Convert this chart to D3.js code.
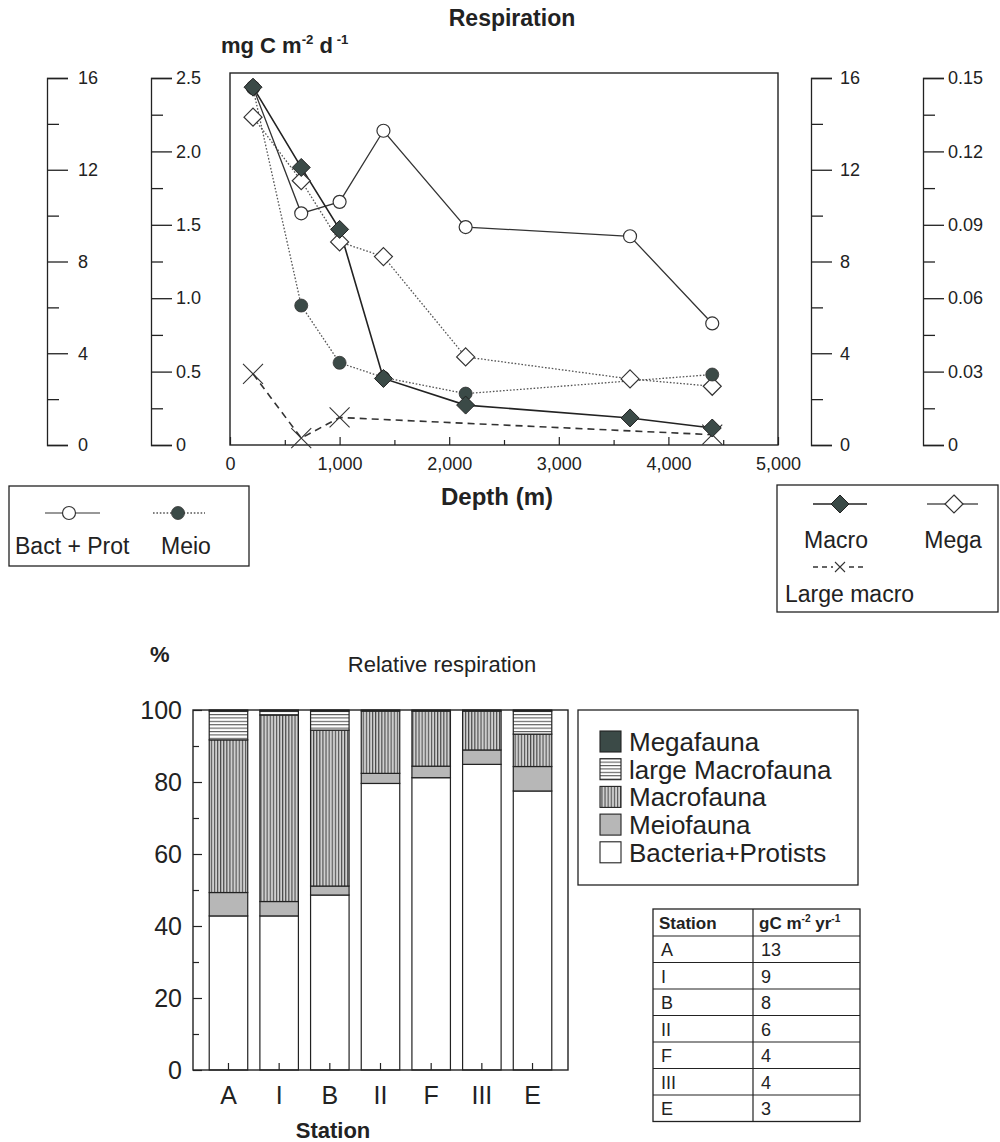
<!DOCTYPE html>
<html>
<head>
<meta charset="utf-8">
<script src="https://cdnjs.cloudflare.com/ajax/libs/d3/7.8.5/d3.min.js"></script>
<style>
body { margin: 0; background: #fff; }
svg text { font-family: "Liberation Sans", Arial, Helvetica, sans-serif; fill: #222; }
</style>
</head>
<body>
<svg id="chart"></svg>
<script>
const width = 1000;
const height = 1142;

// Top panel: respiration vs depth (mg C m-2 d-1)
const depths = [210, 650, 1000, 1400, 2150, 3650, 4400];
const bactProt = [15.6, 10.1, 10.6, 13.7, 9.5, 9.1, 5.3];
const meio = [2.43, 0.95, 0.56, 0.46, 0.35, null, 0.48];
const macro = [15.6, 12.1, 9.4, 2.9, 1.74, 1.18, 0.74];
const mega = [0.134, 0.108, 0.083, 0.077, 0.036, 0.027, 0.024];
const largeMacroDepths = [210, 650, 1000, 4400];
const largeMacro = [3.1, 0.3, 1.2, 0.45];
const depthTicks = [0, 1000, 2000, 3000, 4000, 5000];

// Bottom panel: relative respiration (%)
const stations = ['A', 'I', 'B', 'II', 'F', 'III', 'E'];
const bacteria = [42.8, 42.8, 48.6, 79.6, 81.2, 84.9, 77.5];
const meiofauna = [6.5, 4.0, 2.5, 2.8, 3.2, 4.0, 6.8];
const macrofauna = [42.4, 51.8, 43.3, 17.3, 15.3, 10.8, 9.0];
const largeMacrofauna = [8.0, 1.1, 5.3, 0, 0, 0, 6.4];
const megafauna = [0.3, 0.3, 0.3, 0.3, 0.3, 0.3, 0.3];
const annualResp = [13, 9, 8, 6, 4, 4, 3];
const pctTicks = [0, 20, 40, 60, 80, 100];

const ink = "#222";
const dark = "#3b4a47";

const svg = d3.select("#chart")
    .attr("width", width)
    .attr("height", height)
    .style("background", "#fff");

const defs = svg.append("defs");

// vertical hatching (Macrofauna)
const vp = defs.append("pattern").attr("id", "vlines")
    .attr("patternUnits", "userSpaceOnUse").attr("width", 3.1).attr("height", 10);
vp.append("rect").attr("width", 3.1).attr("height", 10).attr("fill", "#cfcfcf");
vp.append("line").attr("x1", 0.6).attr("x2", 0.6).attr("y1", 0).attr("y2", 10)
    .attr("stroke", "#2a2a2a").attr("stroke-width", 0.9);

// horizontal hatching (large Macrofauna)
const hp = defs.append("pattern").attr("id", "hlines")
    .attr("patternUnits", "userSpaceOnUse").attr("width", 10).attr("height", 3.4);
hp.append("rect").attr("width", 10).attr("height", 3.4).attr("fill", "#fff");
hp.append("line").attr("x1", 0).attr("x2", 10).attr("y1", 0.6).attr("y2", 0.6)
    .attr("stroke", "#333").attr("stroke-width", 0.9);

// ---------- helpers ----------
function supText(g, x, y, parts, size, weight, anchor) {
    const t = g.append("text")
        .attr("x", x).attr("y", y)
        .attr("font-size", size)
        .attr("font-weight", weight || "normal")
        .attr("text-anchor", anchor || "start");
    let shift = 0;
    parts.forEach(p => {
        const want = p.sup ? -size * 0.42 : 0;
        t.append("tspan")
            .attr("dy", want - shift)
            .attr("font-size", p.sup ? size * 0.6 : size)
            .text(p.t);
        shift = want;
    });
    return t;
}

function diamond(r) {
    return `M0,${-r}L${r},0L0,${r}L${-r},0Z`;
}

function drawMarker(g, type, x, y) {
    if (type === "openCircle") {
        g.append("circle").attr("cx", x).attr("cy", y).attr("r", 6.5)
            .attr("fill", "#fff").attr("stroke", "#333").attr("stroke-width", 1.2);
    } else if (type === "fillCircle") {
        g.append("circle").attr("cx", x).attr("cy", y).attr("r", 6.5)
            .attr("fill", dark).attr("stroke", "#333").attr("stroke-width", 0.8);
    } else if (type === "fillDiamond") {
        g.append("path").attr("d", diamond(9)).attr("transform", `translate(${x},${y})`)
            .attr("fill", dark).attr("stroke", ink).attr("stroke-width", 1);
    } else if (type === "openDiamond") {
        g.append("path").attr("d", diamond(9)).attr("transform", `translate(${x},${y})`)
            .attr("fill", "#fff").attr("stroke", "#333").attr("stroke-width", 1.2);
    }
}

function drawCross(g, x, y, r) {
    g.append("path")
        .attr("d", `M${x - r},${y - r}L${x + r},${y + r}M${x - r},${y + r}L${x + r},${y - r}`)
        .attr("stroke", "#333").attr("stroke-width", 1.1).attr("fill", "none");
}

// ---------- top panel ----------
const topBox = {left: 230, right: 778, top: 73, bottom: 445, axisTop: 78};

const x = d3.scaleLinear().domain([0, 5000]).range([topBox.left, topBox.right]);
const yBact = d3.scaleLinear().domain([0, 16]).range([topBox.bottom, topBox.axisTop]);
const yMeio = d3.scaleLinear().domain([0, 2.5]).range([topBox.bottom, topBox.axisTop]);
const yMacro = d3.scaleLinear().domain([0, 16]).range([topBox.bottom, topBox.axisTop]);
const yMega = d3.scaleLinear().domain([0, 0.15]).range([topBox.bottom, topBox.axisTop]);

svg.append("text")
    .attr("x", 512).attr("y", 26)
    .attr("text-anchor", "middle")
    .attr("font-size", 23).attr("font-weight", "bold")
    .text("Respiration");

supText(svg, 221, 53, [
    {t: "mg C m"}, {t: "-2", sup: true}, {t: " d"}, {t: " -1", sup: true}
], 22, "bold");

// separate value axes
const valueAxes = [
    {pos: 47, pad: 10, scale: yBact, major: [0, 4, 8, 12, 16], minor: [2, 6, 10, 14], fmt: d3.format("d")},
    {pos: 151, pad: 4, scale: yMeio, major: [0, 0.5, 1, 1.5, 2, 2.5], minor: [0.25, 0.75, 1.25, 1.75, 2.25],
        fmt: d => d === 0 ? "0" : d3.format(".1f")(d)},
    {pos: 811, pad: 8, scale: yMacro, major: [0, 4, 8, 12, 16], minor: [2, 6, 10, 14], fmt: d3.format("d")},
    {pos: 923, pad: 4, scale: yMega, major: [0, 0.03, 0.06, 0.09, 0.12, 0.15],
        minor: [0.015, 0.045, 0.075, 0.105, 0.135],
        fmt: d => d === 0 ? "0" : d3.format(".2f")(d)}
];

valueAxes.forEach(a => {
    const g = svg.append("g").attr("transform", `translate(${a.pos},0)`);
    g.call(d3.axisRight(a.scale)
        .tickValues(a.major)
        .tickSize(21)
        .tickSizeOuter(21)
        .tickPadding(a.pad)
        .tickFormat(a.fmt));
    const gm = svg.append("g").attr("transform", `translate(${a.pos},0)`);
    gm.call(d3.axisRight(a.scale).tickValues(a.minor).tickSize(12).tickFormat(""));
    gm.select(".domain").remove();
    [g, gm].forEach(s => {
        s.selectAll("path, line").attr("stroke", ink).attr("stroke-width", 1.3);
        s.selectAll("text").attr("font-size", 18).attr("fill", ink)
            .attr("font-family", "'Liberation Sans', Arial, sans-serif");
    });
});

// plot frame
svg.append("rect")
    .attr("x", topBox.left).attr("y", topBox.top)
    .attr("width", topBox.right - topBox.left).attr("height", topBox.bottom - topBox.top)
    .attr("fill", "none").attr("stroke", ink).attr("stroke-width", 1.4);

// depth axis (ticks point into the plot)
const xAxisG = svg.append("g").attr("transform", `translate(0,${topBox.bottom})`)
    .call(d3.axisBottom(x).tickValues(depthTicks).tickSize(-8).tickSizeOuter(0)
        .tickPadding(12).tickFormat(d3.format(",")));
const xMinorG = svg.append("g").attr("transform", `translate(0,${topBox.bottom})`)
    .call(d3.axisBottom(x).tickValues([500, 1500, 2500, 3500, 4500]).tickSize(-5).tickFormat(""));
xMinorG.select(".domain").remove();
xAxisG.select(".domain").remove();
[xAxisG, xMinorG].forEach(s => {
    s.selectAll("line").attr("stroke", ink).attr("stroke-width", 1.2);
    s.selectAll("text").attr("font-size", 18).attr("fill", ink)
        .attr("font-family", "'Liberation Sans', Arial, sans-serif");
});

svg.append("text")
    .attr("x", 497).attr("y", 505)
    .attr("text-anchor", "middle")
    .attr("font-size", 24).attr("font-weight", "bold")
    .text("Depth (m)");

// series
function pts(values, scale, ds) {
    return (ds || depths).map((d, i) => ({d: d, v: values[i]}))
        .filter(p => p.v !== null)
        .map(p => [x(p.d), scale(p.v)]);
}

const series = [
    {key: "mega", pts: pts(mega, yMega), dash: "1.6,1.8", color: "#555", width: 1.3, marker: "openDiamond"},
    {key: "bact", pts: pts(bactProt, yBact), dash: null, color: "#333", width: 1.3, marker: "openCircle"},
    {key: "large", pts: pts(largeMacro, yMacro, largeMacroDepths), dash: "7,5", color: "#333", width: 1.6, marker: "cross"},
    {key: "meio", pts: pts(meio, yMeio), dash: "1.6,1.8", color: "#555", width: 1.3, marker: "fillCircle"},
    {key: "macro", pts: pts(macro, yMacro), dash: null, color: ink, width: 1.6, marker: "fillDiamond"}
];

const line = d3.line();
const linesG = svg.append("g");
series.forEach(s => {
    linesG.append("path")
        .attr("d", line(s.pts))
        .attr("fill", "none")
        .attr("stroke", s.color)
        .attr("stroke-width", s.width)
        .attr("stroke-dasharray", s.dash);
});
const markG = svg.append("g");
series.forEach(s => {
    s.pts.forEach(p => {
        if (s.marker === "cross") drawCross(markG, p[0], p[1], 10);
        else drawMarker(markG, s.marker, p[0], p[1]);
    });
});

// legends for the top panel
const legL = svg.append("g");
legL.append("rect").attr("x", 9).attr("y", 486).attr("width", 240).attr("height", 80)
    .attr("fill", "#fff").attr("stroke", ink).attr("stroke-width", 1.3);
legL.append("line").attr("x1", 45).attr("x2", 100).attr("y1", 513).attr("y2", 513)
    .attr("stroke", "#333").attr("stroke-width", 1.2);
drawMarker(legL, "openCircle", 69, 513);
legL.append("line").attr("x1", 153).attr("x2", 205).attr("y1", 513).attr("y2", 513)
    .attr("stroke", "#555").attr("stroke-width", 1.3).attr("stroke-dasharray", "1.6,1.8");
drawMarker(legL, "fillCircle", 178, 513);
legL.append("text").attr("x", 15).attr("y", 554).attr("font-size", 23).text("Bact + Prot");
legL.append("text").attr("x", 161).attr("y", 554).attr("font-size", 23).text("Meio");

const legR = svg.append("g");
legR.append("rect").attr("x", 777).attr("y", 485).attr("width", 221).attr("height", 127)
    .attr("fill", "#fff").attr("stroke", ink).attr("stroke-width", 1.3);
legR.append("line").attr("x1", 813).attr("x2", 867).attr("y1", 504).attr("y2", 504)
    .attr("stroke", ink).attr("stroke-width", 1.6);
drawMarker(legR, "fillDiamond", 840, 504);
legR.append("line").attr("x1", 927).attr("x2", 978).attr("y1", 504).attr("y2", 504)
    .attr("stroke", "#555").attr("stroke-width", 1.3);
drawMarker(legR, "openDiamond", 954, 504);
legR.append("text").attr("x", 836).attr("y", 548).attr("text-anchor", "middle")
    .attr("font-size", 23).text("Macro");
legR.append("text").attr("x", 953).attr("y", 548).attr("text-anchor", "middle")
    .attr("font-size", 23).text("Mega");
legR.append("line").attr("x1", 813).attr("x2", 867).attr("y1", 567).attr("y2", 567)
    .attr("stroke", "#333").attr("stroke-width", 1.3).attr("stroke-dasharray", "5,4");
legR.append("rect").attr("x", 833).attr("y", 560).attr("width", 14).attr("height", 14).attr("fill", "#fff");
drawCross(legR, 840, 567, 5);
legR.append("text").attr("x", 785).attr("y", 602).attr("font-size", 23).text("Large macro");

// ---------- bottom panel ----------
const botBox = {left: 193, right: 568, top: 710, bottom: 1070};

const xb = d3.scaleBand()
    .domain(stations)
    .range([botBox.left, botBox.right])
    .paddingInner(0.24)
    .paddingOuter(0.32);
const yb = d3.scaleLinear().domain([0, 100]).range([botBox.bottom, botBox.top]);

svg.append("text").attr("x", 150).attr("y", 662)
    .attr("font-size", 22).attr("font-weight", "bold").text("%");
svg.append("text").attr("x", 442).attr("y", 672).attr("text-anchor", "middle")
    .attr("font-size", 22).text("Relative respiration");

const layerKeys = ["bacteria", "meiofauna", "macrofauna", "largeMacro", "megafauna"];
const layerFill = {
    bacteria: "#fff",
    meiofauna: "#b7b7b7",
    macrofauna: "url(#vlines)",
    largeMacro: "url(#hlines)",
    megafauna: dark
};
const rows = stations.map((s, i) => ({
    station: s,
    bacteria: bacteria[i],
    meiofauna: meiofauna[i],
    macrofauna: macrofauna[i],
    largeMacro: largeMacrofauna[i],
    megafauna: megafauna[i]
}));
const stacked = d3.stack().keys(layerKeys)(rows);

const barsG = svg.append("g");
stacked.forEach(layer => {
    barsG.selectAll(null)
        .data(layer.filter(d => d[1] - d[0] > 0))
        .enter()
        .append("rect")
        .attr("x", d => xb(d.data.station))
        .attr("y", d => yb(d[1]))
        .attr("width", xb.bandwidth())
        .attr("height", d => yb(d[0]) - yb(d[1]))
        .attr("fill", layerFill[layer.key])
        .attr("stroke", ink)
        .attr("stroke-width", 1.2);
});

svg.append("rect")
    .attr("x", botBox.left).attr("y", botBox.top)
    .attr("width", botBox.right - botBox.left).attr("height", botBox.bottom - botBox.top)
    .attr("fill", "none").attr("stroke", ink).attr("stroke-width", 1.4);

const ybAxis = svg.append("g").attr("transform", `translate(${botBox.left},0)`)
    .call(d3.axisLeft(yb).tickValues(pctTicks).tickSize(-9).tickSizeOuter(0).tickPadding(11));
const ybMinor = svg.append("g").attr("transform", `translate(${botBox.left},0)`)
    .call(d3.axisLeft(yb).tickValues([10, 30, 50, 70, 90]).tickSize(-6).tickFormat(""));
ybAxis.select(".domain").remove();
ybMinor.select(".domain").remove();

const xbAxis = svg.append("g").attr("transform", `translate(0,${botBox.bottom})`)
    .call(d3.axisBottom(xb).tickSize(-7).tickSizeOuter(0).tickPadding(16));
xbAxis.select(".domain").remove();

[ybAxis, ybMinor, xbAxis].forEach(s => {
    s.selectAll("line").attr("stroke", ink).attr("stroke-width", 1.2);
    s.selectAll("text").attr("font-size", 25).attr("fill", "#333")
        .attr("font-family", "'Liberation Sans', Arial, sans-serif");
});

svg.append("text").attr("x", 333).attr("y", 1138).attr("text-anchor", "middle")
    .attr("font-size", 22).attr("font-weight", "bold").text("Station");

// legend for bars
const legendItems = [
    {key: "megafauna", label: "Megafauna"},
    {key: "largeMacro", label: "large Macrofauna"},
    {key: "macrofauna", label: "Macrofauna"},
    {key: "meiofauna", label: "Meiofauna"},
    {key: "bacteria", label: "Bacteria+Protists"}
];
const legB = svg.append("g");
legB.append("rect").attr("x", 578).attr("y", 710).attr("width", 280).attr("height", 175)
    .attr("fill", "#fff").attr("stroke", ink).attr("stroke-width", 1.3);
legendItems.forEach((it, i) => {
    const cy = 742 + i * 27.7;
    legB.append("rect").attr("x", 600).attr("y", cy - 11).attr("width", 21).attr("height", 21)
        .attr("fill", layerFill[it.key]).attr("stroke", ink).attr("stroke-width", 1.1);
    legB.append("text").attr("x", 629).attr("y", cy + 9).attr("font-size", 26).text(it.label);
});

// table of annual respiration
const tab = {left: 653, mid: 753, right: 860, top: 909, head: 27, row: 26.5};
const tabG = svg.append("g");
const tabBottom = tab.top + tab.head + tab.row * stations.length;
tabG.append("rect").attr("x", tab.left).attr("y", tab.top)
    .attr("width", tab.right - tab.left).attr("height", tabBottom - tab.top)
    .attr("fill", "#fff").attr("stroke", ink).attr("stroke-width", 1.3);
tabG.append("line").attr("x1", tab.mid).attr("x2", tab.mid)
    .attr("y1", tab.top).attr("y2", tabBottom).attr("stroke", ink).attr("stroke-width", 1.2);
tabG.append("text").attr("x", tab.left + 6).attr("y", tab.top + 20)
    .attr("font-size", 17).attr("font-weight", "bold").text("Station");
supText(tabG, tab.mid + 6, tab.top + 20, [
    {t: "gC m"}, {t: "-2", sup: true}, {t: " yr"}, {t: "-1", sup: true}
], 17, "bold");
stations.forEach((s, i) => {
    const y0 = tab.top + tab.head + i * tab.row;
    tabG.append("line").attr("x1", tab.left).attr("x2", tab.right)
        .attr("y1", y0).attr("y2", y0).attr("stroke", ink).attr("stroke-width", 1.2);
    tabG.append("text").attr("x", tab.left + 8).attr("y", y0 + 20)
        .attr("font-size", 18).text(s);
    tabG.append("text").attr("x", tab.mid + 8).attr("y", y0 + 20)
        .attr("font-size", 18).text(annualResp[i]);
});
</script>
</body>
</html>
